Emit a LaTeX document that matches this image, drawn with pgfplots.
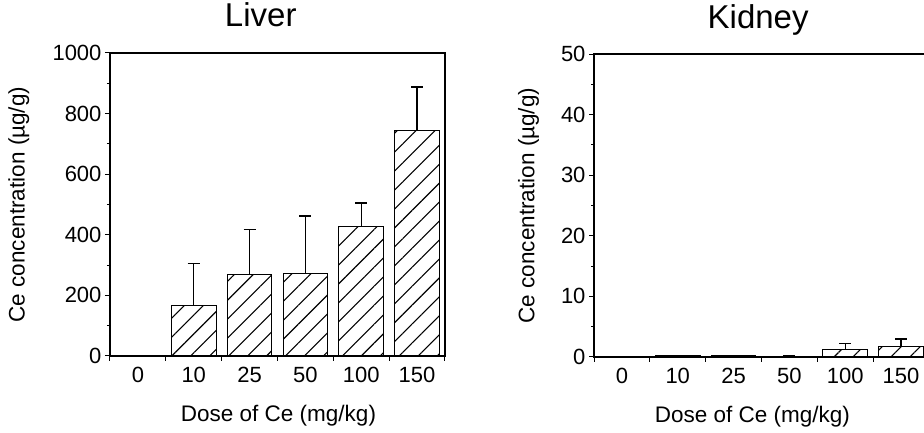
\documentclass[border=0pt]{standalone}
\usepackage{pgfplots}
\pgfplotsset{compat=1.18}
\usepackage{fontspec}
\setmainfont{Liberation Sans}
\usetikzlibrary{patterns.meta}

\pgfplotsset{
  organ/.style={
    scale only axis,
    width=335pt, height=303pt,
    anchor=south west,
    xmin=0, xmax=6,
    xtick={0,1,2,3,4,5,6},
    x tick label as interval,
    xticklabels={0,10,25,50,100,150},
    xtick pos=bottom, ytick pos=left,
    tick align=outside,
    major tick length=5pt, minor tick length=3pt,
    minor y tick num=1,
    axis line style={line width=1.3pt},
    every tick/.style={black, line width=1pt},
    /pgf/number format/assume math mode=true,
    /pgf/number format/1000 sep={},
    tick label style={font=\fontsize{22}{26}\selectfont},
    label style={font=\fontsize{22.5}{26}\selectfont},
    xticklabel style={anchor=base, yshift=-22pt},
    xlabel={Dose of Ce (mg/kg)},
    ylabel={Ce concentration (µg/g)},
    title style={font=\fontsize{33}{38}\selectfont, anchor=base, yshift=20pt},
  },
  hatchbar/.style={
    ybar, bar width=0.8, draw=black, line width=1.1pt,
    pattern={Lines[angle=45, distance=13.4pt, line width=1.1pt]},
    error bars/.cd, y dir=plus, y explicit,
    error bar style={line width=1.2pt, black},
    error mark options={rotate=90, mark size=6pt, line width=1.2pt, black},
  },
}

\begin{document}
\begin{tikzpicture}
\useasboundingbox (0pt,0pt) rectangle (924pt,433pt);
\clip (0pt,0pt) rectangle (924pt,433pt);

\begin{axis}[organ, at={(110pt,77pt)},
    ymin=0, ymax=1000, ytick={0,200,400,600,800,1000},
    title={Liver},
    title style={at={(rel axis cs:0.45,1)}},
    xlabel style={at={(axis description cs:0.503,0)}, anchor=base, yshift=-66pt},
    ylabel style={at={(axis description cs:-0.272,0.5)}, anchor=center}]
  \addplot[hatchbar] coordinates {
    (0.5,0)   +- (0,0)
    (1.5,167) +- (0,138)
    (2.5,268) +- (0,150)
    (3.5,273) +- (0,189)
    (4.5,428) +- (0,77)
    (5.5,745) +- (0,143)
  };
\end{axis}

\begin{axis}[organ, at={(594pt,76pt)},
    ymin=0, ymax=50, ytick={0,10,20,30,40,50},
    title={Kidney},
    title style={at={(rel axis cs:0.49,1)}},
    xlabel style={at={(axis description cs:0.473,0)}, anchor=base, yshift=-66pt},
    ylabel style={at={(axis description cs:-0.195,0.5)}, anchor=center}]
  \addplot[hatchbar] coordinates {
    (0.5,0)    +- (0,0)
    (1.5,0.2)  +- (0,0)
    (2.5,0.3)  +- (0,0)
    (3.5,0.15) +- (0,0)
    (4.5,1.27) +- (0,0.93)
    (5.5,1.76) +- (0,1.21)
  };
\end{axis}
\end{tikzpicture}
\end{document}
